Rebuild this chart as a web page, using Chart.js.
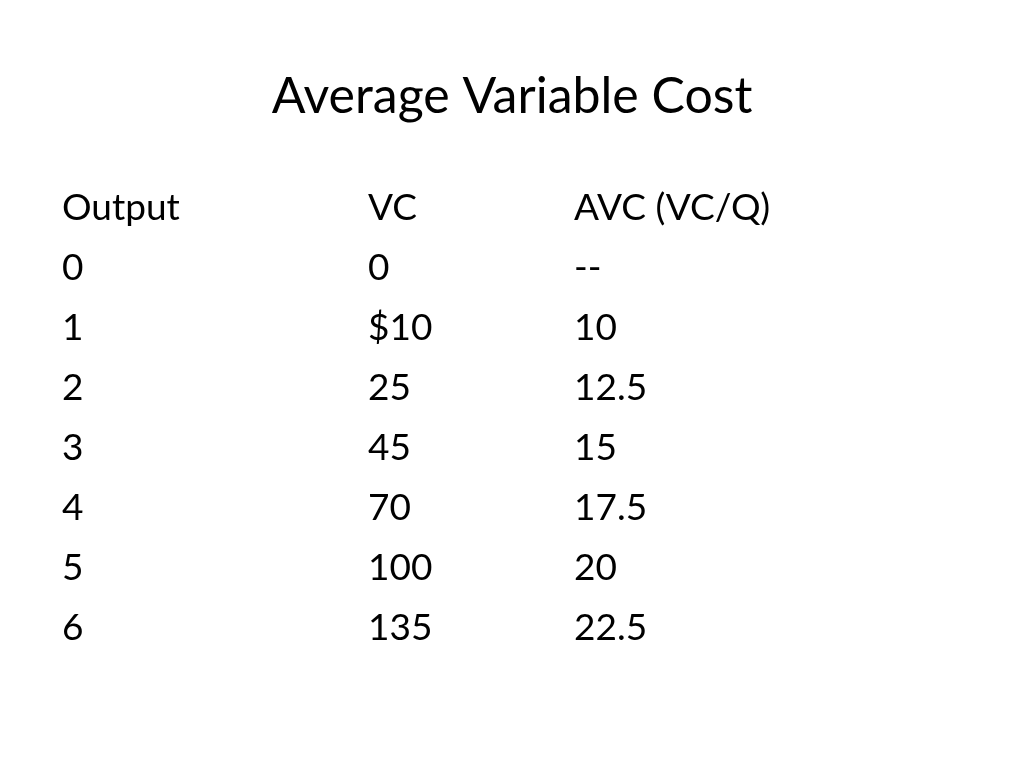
<!DOCTYPE html>
<html>
<head>
<meta charset="utf-8">
<script src="https://cdn.jsdelivr.net/npm/chart.js@4"></script>
<style>
  html, body { margin: 0; padding: 0; background: #fff; }
  #wrap { width: 1024px; height: 768px; }
</style>
</head>
<body>
<div id="wrap"><canvas id="slide"></canvas></div>
<script>
const title = 'Average Variable Cost';
const headers = ['Output', 'VC', 'AVC (VC/Q)'];
const output = ['0', '1', '2', '3', '4', '5', '6'];
const vc = ['0', '$10', '25', '45', '70', '100', '135'];
const avc = ['--', '10', '12.5', '15', '17.5', '20', '22.5'];

// layout (pixels)
const colX = [62, 368, 574];
const firstRowY = 208, rowGap = 60;
const fontFamily = 'Lato, "Open Sans", sans-serif';

const tablePlugin = {
  id: 'tableText',
  afterDatasetsDraw(chart) {
    const ctx = chart.ctx;
    const xs = chart.scales.x, ys = chart.scales.y;
    ctx.save();
    ctx.fillStyle = '#000';
    ctx.textBaseline = 'middle';
    ctx.textAlign = 'center';
    ctx.font = '50px ' + fontFamily;
    ctx.fillText(title, xs.getPixelForValue(512), 97);
    ctx.textAlign = 'left';
    ctx.font = '37px ' + fontFamily;
    const cols = [output, vc, avc];
    headers.forEach((h, c) => ctx.fillText(h, xs.getPixelForValue(colX[c]), ys.getPixelForValue(0)));
    cols.forEach((col, c) => {
      col.forEach((v, r) => ctx.fillText(v, xs.getPixelForValue(colX[c]), ys.getPixelForValue(r + 1)));
    });
    ctx.restore();
  }
};

new Chart(document.getElementById('slide'), {
  type: 'scatter',
  data: { datasets: [{ data: [] }] },
  options: {
    responsive: true,
    maintainAspectRatio: false,
    animation: false,
    layout: { padding: 0 },
    plugins: { legend: { display: false }, tooltip: { enabled: false } },
    scales: {
      x: { type: 'linear', min: 0, max: 1024, display: false },
      y: { type: 'linear', reverse: true, min: -firstRowY / rowGap, max: (768 - firstRowY) / rowGap, display: false }
    }
  },
  plugins: [tablePlugin]
});
</script>
</body>
</html>
